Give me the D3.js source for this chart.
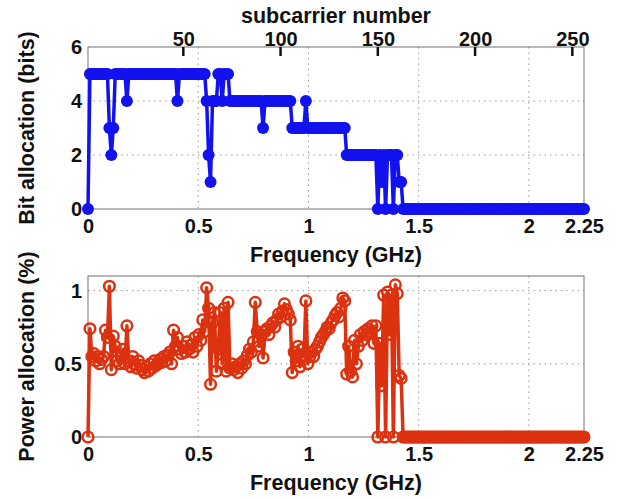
<!DOCTYPE html>
<html><head><meta charset="utf-8">
<script src="https://cdn.jsdelivr.net/npm/d3@7"></script>
<style>body{margin:0;background:#fff}svg{display:block}text{font-family:"Liberation Sans",Arial,sans-serif;font-weight:bold;fill:#111}</style>
</head><body><svg id="c" width="618" height="499"></svg>
<script>
// bits per subcarrier (subcarriers 1..256)
const bits = [0,
5,5,5,5,5,5,5,5,5,5,
3,2,3,
5,5,5,5,5,5,
4,
5,5,5,5,5,5,5,5,5,5,5,5,5,5,5,5,5,5,5,5,5,5,5,5,5,
4,
5,5,5,5,5,5,5,5,5,5,5,5,5,5,
4,2,1,4,4,4,5,5,4,5,5,5,
4,4,4,4,4,4,4,4,4,4,4,4,4,4,4,4,4,
3,
4,4,4,4,4,4,4,4,4,4,4,4,4,4,
3,3,3,3,3,3,3,
4,
3,3,3,3,3,3,3,3,3,3,3,3,3,3,3,3,3,3,3,3,
2,2,2,2,2,2,2,2,2,2,2,2,2,2,2,2,
0,2,1,2,0,2,2,2,0,2,2,1,1,
0,0,0,0,0,0,0,0,0,0,0,0,0,0,0,0,0,0,0,0,0,0,0,0,0,0,0,0,0,0,0,0,0,0,0,0,0,0,0,0,0,0,0,0,0,0,0,
0,0,0,0,0,0,0,0,0,0,0,0,0,0,0,0,0,0,0,0,0,0,0,0,0,0,0,0,0,0,0,0,0,0,0,0,0,0,0,0,0,0,0,0,0,0,0];
// power allocation (%) per subcarrier
const power = [0,0.74,0.55,0.57,0.52,0.55,0.5,0.53,0.55,0.73,0.68,
1.03,0.46,0.69,0.62,0.52,0.5,0.55,0.6,0.5,0.76,
0.52,0.48,0.55,0.5,0.47,0.52,0.49,0.46,0.44,0.48,
0.45,0.5,0.47,0.52,0.49,0.5,0.53,0.51,0.55,0.52,
0.56,0.58,0.5,0.73,0.62,0.68,0.6,0.57,0.62,0.58,
0.65,0.6,0.63,0.58,0.68,0.62,0.7,0.66,0.8,0.72,
1.02,0.88,0.36,0.78,0.85,0.45,0.6,0.85,0.5,0.88,
0.45,0.92,0.47,0.5,0.46,0.48,0.44,0.5,0.47,0.52,
0.5,0.56,0.6,0.58,0.65,0.92,0.72,0.62,0.7,0.54,
0.72,0.74,0.7,0.76,0.78,0.75,0.8,0.84,0.82,0.86,
0.91,0.87,0.84,0.8,0.44,0.58,0.52,0.62,0.48,0.6,
0.55,0.93,0.5,0.55,0.58,0.55,0.6,0.62,0.65,0.68,
0.7,0.72,0.75,0.74,0.78,0.8,0.83,0.85,0.82,0.88,
0.95,0.93,0.43,0.62,0.45,0.41,0.66,0.5,0.62,0.7,
0.66,0.72,0.7,0.74,0.72,0.76,0.64,0.76,0,0.64,
0.35,0.97,0,0.99,0.7,0.97,0,1.04,0.98,0.42,0.4,
0,0,0,0,0,0,0,0,0,0,0,0,0,0,0,0,0,0,0,0,0,0,0,0,0,0,0,0,0,0,0,0,0,0,0,0,0,0,0,0,0,0,0,0,0,0,0,
0,0,0,0,0,0,0,0,0,0,0,0,0,0,0,0,0,0,0,0,0,0,0,0,0,0,0,0,0,0,0,0,0,0,0,0,0,0,0,0,0,0,0,0,0,0,0];
const subcarriers = bits.map((_, i) => i + 1);
const freqTicks = [0, 0.5, 1, 1.5, 2, 2.25];
const freqGrid = [0.5, 1, 1.5, 2];
const subTicks = [50, 100, 150, 200, 250];
const bitTicks = [0, 2, 4, 6];
const powTicks = [0, 0.5, 1];

const svg = d3.select("#c");
const L = 88, R = 584;
const xs = d3.scaleLinear().domain([1, 256]).range([L, R]);
const xf = d3.scaleLinear().domain([0, 2.25]).range([L, R]);
const blue = "#1212ee", red = "#dc3210";

function panel(top, bottom, yDomain, yTicks, yGrid, data, yLabel, filled) {
  const y = d3.scaleLinear().domain(yDomain).range([bottom, top]);
  const g = svg.append("g");
  g.selectAll(".gx").data(freqGrid).join("line")
    .attr("x1", d => xf(d)).attr("x2", d => xf(d)).attr("y1", top).attr("y2", bottom)
    .attr("stroke", "#999").attr("stroke-dasharray", "1.5,4").attr("stroke-width", 1);
  g.selectAll(".gy").data(yGrid).join("line")
    .attr("x1", L).attr("x2", R).attr("y1", d => y(d)).attr("y2", d => y(d))
    .attr("stroke", "#999").attr("stroke-dasharray", "1.5,4").attr("stroke-width", 1);
  g.append("rect").attr("x", L).attr("y", top).attr("width", R - L).attr("height", bottom - top)
    .attr("fill", "none").attr("stroke", "#707070").attr("stroke-width", 1);
  const ax = d3.axisBottom(xf).tickValues(freqTicks).tickSize(0).tickPadding(10).tickFormat(d3.format("~g"));
  const axg = g.append("g").attr("transform", `translate(0,${bottom})`).call(ax);
  axg.select(".domain").remove();
  axg.selectAll("text").attr("font-size", 20).style("font-weight", "bold").attr("fill", "#111");
  const ay = d3.axisLeft(y).tickValues(yTicks).tickSize(0).tickPadding(6).tickFormat(d3.format("~g"));
  const ayg = g.append("g").attr("transform", `translate(${L},0)`).call(ay);
  ayg.select(".domain").remove();
  ayg.selectAll("text").attr("font-size", 20).style("font-weight", "bold").attr("fill", "#111");
  g.append("text").attr("x", (L + R) / 2).attr("y", bottom + 53).attr("text-anchor", "middle")
    .attr("font-size", 21.5).text("Frequency (GHz)");
  g.append("text").attr("transform", `translate(34,${(top + bottom) / 2}) rotate(-90)`)
    .attr("text-anchor", "middle").attr("font-size", 21.5).text(yLabel);
  const color = filled ? blue : red;
  const line = d3.line().x((d, i) => xs(subcarriers[i])).y(d => y(d));
  g.append("path").datum(data).attr("d", line).attr("fill", "none")
    .attr("stroke", color).attr("stroke-width", 3.5).attr("stroke-linejoin", "round");
  g.selectAll(".m").data(data).join("circle")
    .attr("cx", (d, i) => xs(subcarriers[i])).attr("cy", d => y(d))
    .attr("r", filled ? 6 : 5.3)
    .attr("fill", filled ? color : "none")
    .attr("stroke", color).attr("stroke-width", filled ? 0 : 2.5);
  return y;
}

panel(47, 209, [0, 6], bitTicks, [2, 4], bits, "Bit allocation (bits)", true);
panel(276, 437, [0, 1.1], powTicks, [0.5, 1], power, "Power allocation (%)", false);

const at = d3.axisTop(xs).tickValues(subTicks).tickSize(0).tickPadding(1);
const atg = svg.append("g").attr("transform", "translate(0,47)").call(at);
atg.select(".domain").remove();
atg.selectAll("text").attr("font-size", 20).style("font-weight", "bold").attr("fill", "#111");
svg.selectAll(".st").data(subTicks).join("line")
  .attr("x1", d => xs(d)).attr("x2", d => xs(d)).attr("y1", 47).attr("y2", 56)
  .attr("stroke", "#111").attr("stroke-width", 2.5);
svg.append("text").attr("x", (L + R) / 2).attr("y", 23).attr("text-anchor", "middle")
  .attr("font-size", 21.5).text("subcarrier number");
</script></body></html>
